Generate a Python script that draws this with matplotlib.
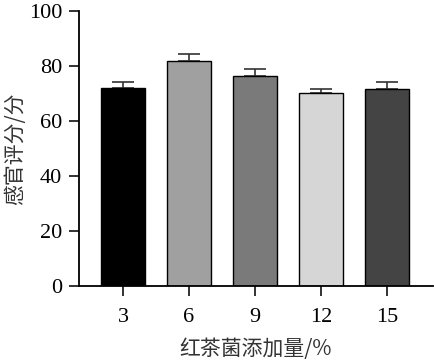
import numpy as np
import matplotlib.pyplot as plt

plt.rcParams['font.family'] = ['Liberation Serif', 'Noto Sans CJK SC']

categories = ["3", "6", "9", "12", "15"]
scores = [72.1, 81.9, 76.2, 70.3, 71.6]
errors = [2.0, 2.3, 2.7, 1.4, 2.7]
colors = ["#000000", "#a0a0a0", "#7a7a7a", "#d6d6d6", "#444444"]

fig = plt.figure(figsize=(4.34, 3.61), dpi=100)
ax = fig.add_axes([0.182, 0.208, 0.816, 0.762])

x = np.arange(len(categories))
ax.bar(x, scores, width=0.667, color=colors, edgecolor="black", linewidth=1.0, zorder=2)
ax.errorbar(x, scores, yerr=[[0] * len(errors), errors], fmt="none", ecolor="#333333",
            elinewidth=1.2, capsize=8, capthick=1.2, zorder=1)

ax.set_xlim(-0.667, 4.70)
ax.set_ylim(0, 100)
ax.set_yticks([0, 20, 40, 60, 80, 100])
ax.set_xticks(x)
ax.set_xticklabels(categories)

for s in ["top", "right"]:
    ax.spines[s].set_visible(False)
for s in ["left", "bottom"]:
    ax.spines[s].set_linewidth(1.3)

ax.tick_params(direction="out", length=7, width=1.3, labelsize=16, color="#222222")
ax.tick_params(axis="y", pad=5)
ax.tick_params(axis="x", pad=9)

ax.set_xlabel("红茶菌添加量/%", fontsize=15, family=['Noto Sans CJK SC'], color="#333333", labelpad=8)
ax.set_ylabel("感官评分/分", fontsize=15, family=['Noto Sans CJK SC'], color="#333333", labelpad=2)

fig.savefig("out.png", dpi=100)
